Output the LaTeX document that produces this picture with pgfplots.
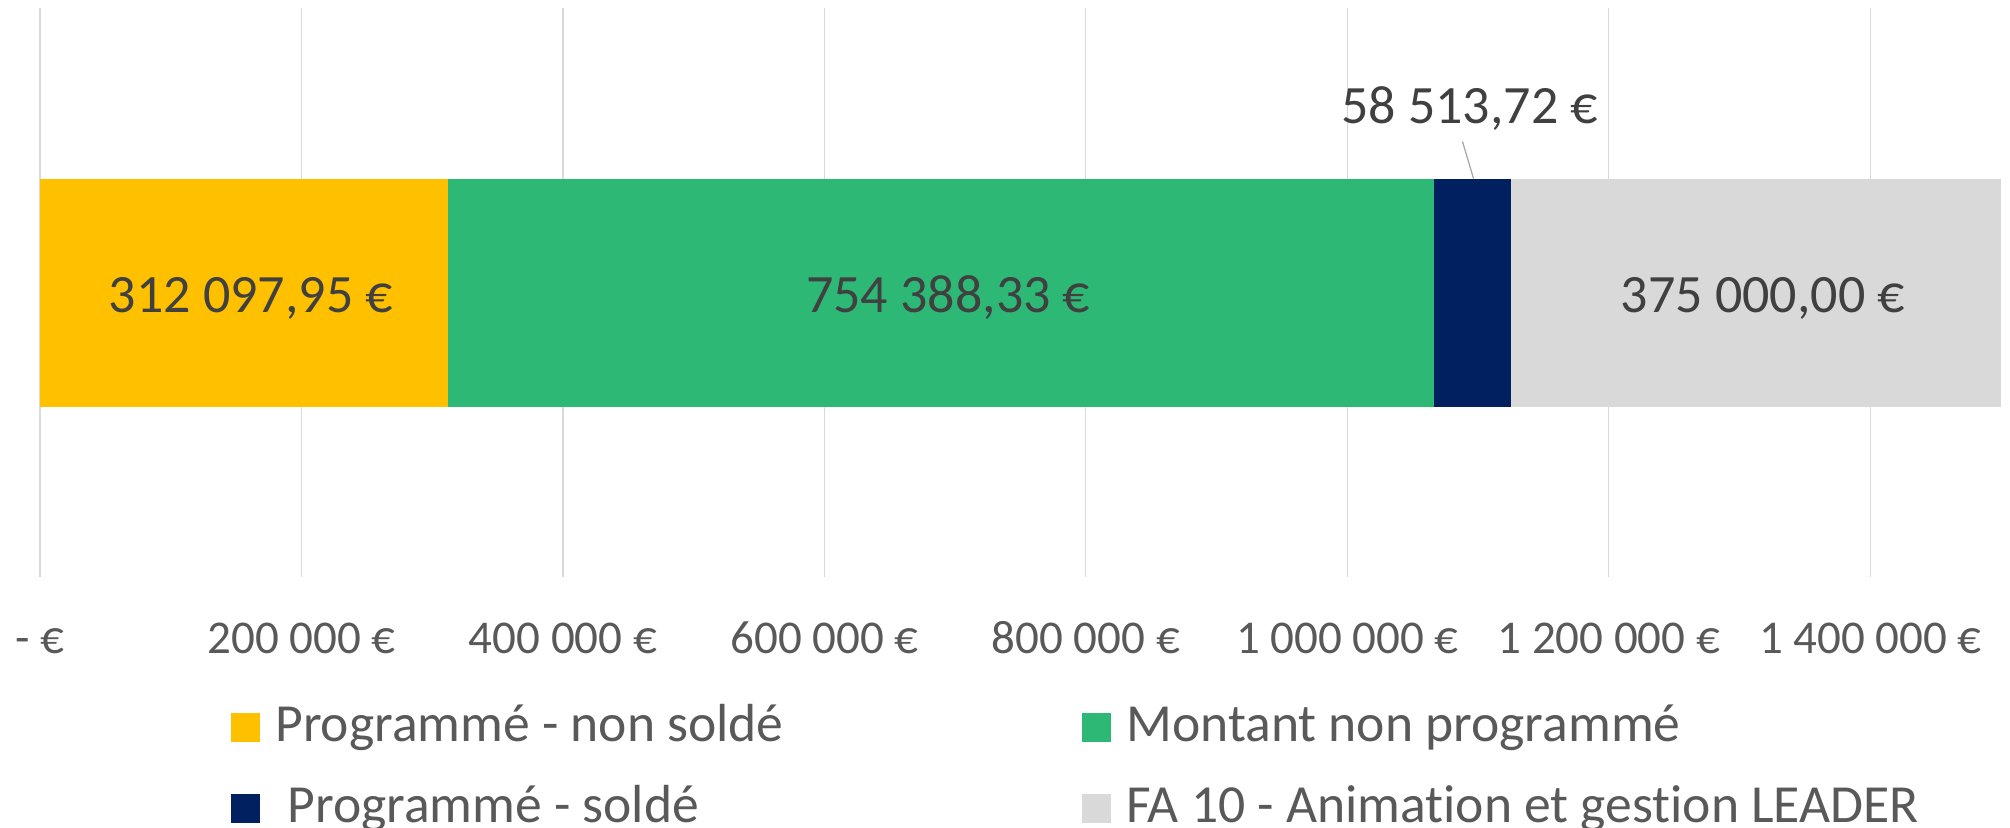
\documentclass[border=0pt]{standalone}
\usepackage{pgfplots}
\pgfplotsset{compat=1.18}
\usepackage{fontspec}
\setmainfont{Carlito}[Ligatures={NoCommon}]
\definecolor{cyel}{HTML}{FFC000}
\definecolor{cgrn}{HTML}{2DB875}
\definecolor{cnav}{HTML}{002060}
\definecolor{cgry}{HTML}{D9D9D9}
\definecolor{ctxt}{HTML}{595959}
\definecolor{clab}{HTML}{404040}
\definecolor{cgrid}{HTML}{D9D9D9}
\definecolor{clead}{HTML}{A6A6A6}
\begin{document}
\begin{tikzpicture}
\begin{axis}[
  xbar stacked,
  scale only axis,
  width=980.5pt, height=284.5pt,
  xmin=0, xmax=1500000,
  ymin=-1.25, ymax=1.25,
  bar width=114pt,
  clip=false,
  axis line style={draw=none},
  tick style={draw=none},
  ytick=\empty,
  xmajorgrids,
  grid style={cgrid, line width=0.6pt},
  scaled x ticks=false,
  xtick={0,200000,400000,600000,800000,1000000,1200000,1400000},
  xticklabels={{-~€},{200~000~€},{400~000~€},{600~000~€},{800~000~€},{1~000~000~€},{1~200~000~€},{1~400~000~€}},
  xticklabel style={font=\fontsize{23.5}{28}\selectfont, text=ctxt, anchor=base, yshift=-38pt},
  legend columns=2,
  legend cell align=left,
  legend image code/.code={\fill[#1] (0pt,-7.25pt) rectangle (14.5pt,7.25pt);},
  legend style={
    at={(0.0974,-0.2179)}, anchor=north west,
    draw=none, fill=none, inner sep=0pt,
    font=\fontsize{26.8}{32}\selectfont, text=ctxt,
    column sep=7.5pt,
    /tikz/column 2/.style={column sep=0pt, nodes={text width=403.5pt, align=flush left}},
    row sep=14.5pt,
    nodes={inner sep=0pt, text height=20pt, text depth=6pt},
  },
  nodes near coords,
  point meta=explicit symbolic,
  every node near coord/.append style={font=\fontsize{27}{32}\selectfont, text=clab},
]
\addplot[fill=cyel, draw=none,
  every node near coord/.append style={anchor=base, xshift=3.5pt, yshift=-10pt}]
  coordinates {(312097.95,0) [312~097,95~€]};
\addlegendentry{Programmé - non soldé}
\addplot[fill=cgrn, draw=none,
  every node near coord/.append style={anchor=base, xshift=3.5pt, yshift=-10pt}]
  coordinates {(754388.33,0) [754~388,33~€]};
\addlegendentry{Montant non programmé}
\addplot[fill=cnav, draw=none,
  every node near coord/.append style={anchor=base, xshift=-1.5pt, yshift=84.5pt,
    append after command={([xshift=-3.5pt,yshift=-9pt]\tikzlastnode.base) edge[draw=clead, line width=0.6pt] ++(5.5pt,-18.5pt)}}]
  coordinates {(58513.72,0) [58~513,72~€]};
\addlegendentry{\hspace*{0.226em}Programmé - soldé}
\addplot[fill=cgry, draw=none,
  every node near coord/.append style={anchor=base, xshift=3.5pt, yshift=-10pt}]
  coordinates {(375000,0) [375~000,00~€]};
\addlegendentry{FA 10 - Animation et gestion LEADER}
\end{axis}
\pgfresetboundingbox
\path[use as bounding box] (-20pt,-125pt) rectangle (985pt,288.5pt);
\end{tikzpicture}
\end{document}
